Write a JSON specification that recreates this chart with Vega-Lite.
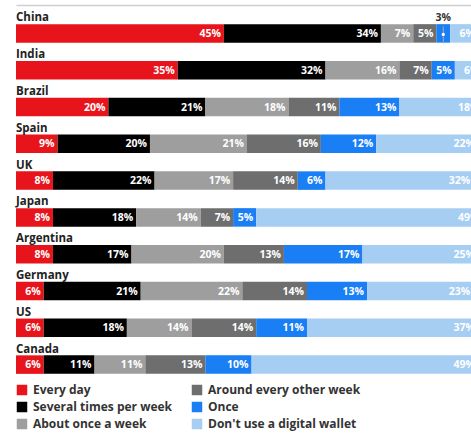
{
  "$schema": "https://vega.github.io/schema/vega-lite/v6.json",
  "width": 455,
  "height": 368,
  "autosize": {"type": "none"},
  "padding": {"left": 16, "top": 8, "right": 0, "bottom": 58},
  "config": {"view": {"stroke": null}, "font": "Open Sans"},
  "data": {"values": [
    {"country": "China", "freq": "Every day", "rank": 1, "value": 45},
    {"country": "China", "freq": "Several times per week", "rank": 2, "value": 34},
    {"country": "China", "freq": "About once a week", "rank": 3, "value": 7},
    {"country": "China", "freq": "Around every other week", "rank": 4, "value": 5},
    {"country": "China", "freq": "Once", "rank": 5, "value": 3},
    {"country": "China", "freq": "Don't use a digital wallet", "rank": 6, "value": 6},
    {"country": "India", "freq": "Every day", "rank": 1, "value": 35},
    {"country": "India", "freq": "Several times per week", "rank": 2, "value": 32},
    {"country": "India", "freq": "About once a week", "rank": 3, "value": 16},
    {"country": "India", "freq": "Around every other week", "rank": 4, "value": 7},
    {"country": "India", "freq": "Once", "rank": 5, "value": 5},
    {"country": "India", "freq": "Don't use a digital wallet", "rank": 6, "value": 6},
    {"country": "Brazil", "freq": "Every day", "rank": 1, "value": 20},
    {"country": "Brazil", "freq": "Several times per week", "rank": 2, "value": 21},
    {"country": "Brazil", "freq": "About once a week", "rank": 3, "value": 18},
    {"country": "Brazil", "freq": "Around every other week", "rank": 4, "value": 11},
    {"country": "Brazil", "freq": "Once", "rank": 5, "value": 13},
    {"country": "Brazil", "freq": "Don't use a digital wallet", "rank": 6, "value": 18},
    {"country": "Spain", "freq": "Every day", "rank": 1, "value": 9},
    {"country": "Spain", "freq": "Several times per week", "rank": 2, "value": 20},
    {"country": "Spain", "freq": "About once a week", "rank": 3, "value": 21},
    {"country": "Spain", "freq": "Around every other week", "rank": 4, "value": 16},
    {"country": "Spain", "freq": "Once", "rank": 5, "value": 12},
    {"country": "Spain", "freq": "Don't use a digital wallet", "rank": 6, "value": 22},
    {"country": "UK", "freq": "Every day", "rank": 1, "value": 8},
    {"country": "UK", "freq": "Several times per week", "rank": 2, "value": 22},
    {"country": "UK", "freq": "About once a week", "rank": 3, "value": 17},
    {"country": "UK", "freq": "Around every other week", "rank": 4, "value": 14},
    {"country": "UK", "freq": "Once", "rank": 5, "value": 6},
    {"country": "UK", "freq": "Don't use a digital wallet", "rank": 6, "value": 32},
    {"country": "Japan", "freq": "Every day", "rank": 1, "value": 8},
    {"country": "Japan", "freq": "Several times per week", "rank": 2, "value": 18},
    {"country": "Japan", "freq": "About once a week", "rank": 3, "value": 14},
    {"country": "Japan", "freq": "Around every other week", "rank": 4, "value": 7},
    {"country": "Japan", "freq": "Once", "rank": 5, "value": 5},
    {"country": "Japan", "freq": "Don't use a digital wallet", "rank": 6, "value": 49},
    {"country": "Argentina", "freq": "Every day", "rank": 1, "value": 8},
    {"country": "Argentina", "freq": "Several times per week", "rank": 2, "value": 17},
    {"country": "Argentina", "freq": "About once a week", "rank": 3, "value": 20},
    {"country": "Argentina", "freq": "Around every other week", "rank": 4, "value": 13},
    {"country": "Argentina", "freq": "Once", "rank": 5, "value": 17},
    {"country": "Argentina", "freq": "Don't use a digital wallet", "rank": 6, "value": 25},
    {"country": "Germany", "freq": "Every day", "rank": 1, "value": 6},
    {"country": "Germany", "freq": "Several times per week", "rank": 2, "value": 21},
    {"country": "Germany", "freq": "About once a week", "rank": 3, "value": 22},
    {"country": "Germany", "freq": "Around every other week", "rank": 4, "value": 14},
    {"country": "Germany", "freq": "Once", "rank": 5, "value": 13},
    {"country": "Germany", "freq": "Don't use a digital wallet", "rank": 6, "value": 23},
    {"country": "US", "freq": "Every day", "rank": 1, "value": 6},
    {"country": "US", "freq": "Several times per week", "rank": 2, "value": 18},
    {"country": "US", "freq": "About once a week", "rank": 3, "value": 14},
    {"country": "US", "freq": "Around every other week", "rank": 4, "value": 14},
    {"country": "US", "freq": "Once", "rank": 5, "value": 11},
    {"country": "US", "freq": "Don't use a digital wallet", "rank": 6, "value": 37},
    {"country": "Canada", "freq": "Every day", "rank": 1, "value": 6},
    {"country": "Canada", "freq": "Several times per week", "rank": 2, "value": 11},
    {"country": "Canada", "freq": "About once a week", "rank": 3, "value": 11},
    {"country": "Canada", "freq": "Around every other week", "rank": 4, "value": 13},
    {"country": "Canada", "freq": "Once", "rank": 5, "value": 10},
    {"country": "Canada", "freq": "Don't use a digital wallet", "rank": 6, "value": 49}
  ]},
  "transform": [
    {"stack": "value", "groupby": ["country"], "sort": [{"field": "rank", "order": "ascending"}], "as": ["x0", "x1"]},
    {"calculate": "datum.value + '%'", "as": "label"},
    {"calculate": "(datum.x0 + datum.x1) / 2", "as": "mid"}
  ],
  "encoding": {
    "y": {
      "field": "country", "type": "nominal", "sort": null, "axis": null,
      "scale": {"domain": ["China", "India", "Brazil", "Spain", "UK", "Japan", "Argentina", "Germany", "US", "Canada"], "paddingInner": 0, "paddingOuter": 0}
    }
  },
  "layer": [
    {
      "mark": {"type": "bar", "height": 18.5, "yOffset": 7, "clip": true},
      "encoding": {
        "x": {"field": "x0", "type": "quantitative", "scale": {"domain": [0, 98.5], "nice": false, "zero": true},
          "axis": {"orient": "top", "labels": false, "ticks": false, "grid": false, "title": null, "domainColor": "#cfcfcf", "domainWidth": 1.5, "offset": 3}},
        "x2": {"field": "x1"},
        "color": {
          "field": "freq", "type": "nominal",
          "scale": {
            "domain": ["Every day", "Around every other week", "Several times per week", "Once", "About once a week", "Don't use a digital wallet"],
            "range": ["#e8141c", "#6e6e6e", "#000000", "#1a7ef5", "#9e9e9e", "#a6cdf2"]
          },
          "legend": {
            "title": null, "orient": "none", "legendX": 0, "legendY": 376,
            "columns": 2, "direction": "horizontal", "symbolType": "square", "symbolSize": 110,
            "symbolStrokeWidth": 0, "symbolOpacity": 1,
            "labelFont": "Open Sans", "labelFontWeight": "bold", "labelFontSize": 12, "labelColor": "#333333",
            "rowPadding": 5, "columnPadding": 18, "labelOffset": 5, "gridAlign": "each", "labelLimit": 250
          }
        }
      }
    },
    {
      "transform": [{"filter": "datum.value >= 4"}],
      "mark": {"type": "text", "align": "right", "baseline": "middle", "dx": -3, "yOffset": 7.5, "color": "white", "font": "Open Sans", "fontWeight": "bold", "fontSize": 10.5, "clip": true},
      "encoding": {
        "x": {"field": "x1", "type": "quantitative"},
        "text": {"field": "label"}
      }
    },
    {
      "transform": [{"filter": "datum.value < 4"}],
      "mark": {"type": "text", "align": "center", "baseline": "alphabetic", "yOffset": -5, "color": "#333333", "font": "Open Sans", "fontWeight": "bold", "fontSize": 10.5},
      "encoding": {
        "x": {"field": "mid", "type": "quantitative"},
        "text": {"field": "label"}
      }
    },
    {
      "transform": [{"filter": "datum.value < 4"}],
      "mark": {"type": "rule", "yOffset": 0, "y2Offset": 17, "color": "#aaaaaa", "strokeWidth": 1},
      "encoding": {
        "x": {"field": "mid", "type": "quantitative"},
        "y": {"field": "country", "type": "nominal", "sort": null, "bandPosition": 0.5},
        "y2": {"field": "country"}
      }
    },
    {
      "transform": [{"filter": "datum.value < 4"}],
      "mark": {"type": "point", "filled": true, "color": "white", "size": 10, "opacity": 1, "yOffset": 8},
      "encoding": {
        "x": {"field": "mid", "type": "quantitative"}
      }
    },
    {
      "transform": [{"filter": "datum.rank == 1"}],
      "mark": {"type": "text", "align": "left", "baseline": "alphabetic", "yOffset": -5, "color": "#222222", "font": "Open Sans", "fontWeight": "bold", "fontSize": 11.5},
      "encoding": {
        "x": {"datum": 0, "type": "quantitative"},
        "text": {"field": "country"}
      }
    }
  ]
}
